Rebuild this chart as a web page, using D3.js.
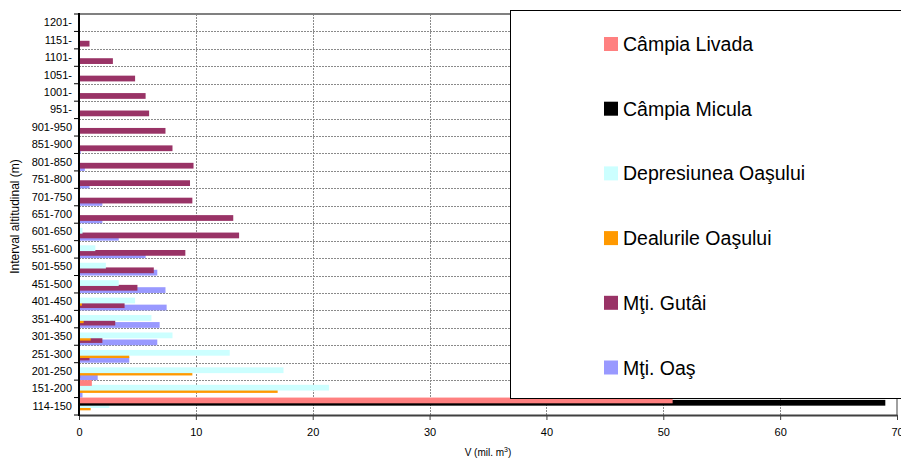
<!DOCTYPE html>
<html>
<head>
<meta charset="utf-8">
<script src="https://cdn.jsdelivr.net/npm/d3@7"></script>
<style>
  body { margin: 0; background: #fff; }
  svg { display: block; font-family: Arial, "Liberation Sans", sans-serif; }
</style>
</head>
<body>
<svg id="chart" width="901" height="466"></svg>
<script>
// altitude intervals, bottom to top
var categories = ["114-150", "151-200", "201-250", "251-300", "301-350", "351-400", "401-450",
  "451-500", "501-550", "551-600", "601-650", "651-700", "701-750", "751-800", "801-850",
  "851-900", "901-950", "951-", "1001-", "1051-", "1101-", "1151-", "1201-"];

var seriesNames = ["Câmpia Livada", "Câmpia Micula", "Depresiunea Oaşului", "Dealurile Oaşului", "Mţi. Gutâi", "Mţi. Oaş"];
var seriesColors = ["#ff8080", "#000000", "#ccffff", "#ff9900", "#993366", "#9999ff"];

var livada      = [50.8, 1.1, 0, 0, 0, 0, 0, 0, 0, 0, 0, 0, 0, 0, 0, 0, 0, 0, 0, 0, 0, 0, 0];
var micula      = [69.0, 0, 0, 0, 0, 0, 0, 0, 0, 0, 0, 0, 0, 0, 0, 0, 0, 0, 0, 0, 0, 0, 0];
var depresiunea = [2.6, 21.4, 17.5, 12.9, 8.0, 6.2, 4.8, 3.4, 2.3, 1.4, 0.3, 0, 0, 0, 0, 0, 0, 0, 0, 0, 0, 0, 0];
var dealurile   = [1.0, 17.0, 9.7, 4.3, 1.0, 0.4, 0.25, 0, 0, 0, 0, 0, 0, 0, 0, 0, 0, 0, 0, 0, 0, 0, 0];
var gutai       = [0, 0, 0.1, 0.9, 2.0, 3.1, 3.9, 5.0, 6.4, 9.1, 13.7, 13.2, 9.7, 9.5, 9.8, 8.0, 7.4, 6.0, 5.7, 4.8, 2.9, 0.9, 0];
var oas         = [0, 0.3, 1.6, 4.3, 6.7, 6.9, 7.5, 7.4, 6.7, 5.7, 3.4, 2.0, 2.0, 0.9, 0.5, 0.15, 0, 0, 0, 0, 0, 0, 0];

var xTicks = [0, 10, 20, 30, 40, 50, 60, 70];

var seriesValues = [livada, micula, depresiunea, dealurile, gutai, oas];

var svg = d3.select("#chart");
var L = 79, R = 897, T = 14, B = 415;

var x = d3.scaleLinear().domain([0, 70]).range([L, R]);
var y = d3.scaleBand().domain(categories.slice().reverse()).range([T, B]).padding(0);
var bw = y.bandwidth();
var barH = bw * 0.33;
// overlapping bars inside a band, first series on top
var sy = d3.scalePoint().domain(seriesNames).range([0, bw - barH]);

// gridlines
var grid = svg.append("g").attr("stroke", "#8a8a8a").attr("stroke-width", 1).attr("stroke-dasharray", "2,1");
grid.selectAll("line.v").data(xTicks.slice(1, -1)).enter().append("line")
  .attr("x1", d => Math.round(x(d)) + 0.5).attr("x2", d => Math.round(x(d)) + 0.5)
  .attr("y1", T).attr("y2", B);
grid.selectAll("line.h").data(categories.slice(1)).enter().append("line")
  .attr("x1", L).attr("x2", R)
  .attr("y1", d => Math.round(y(d) + bw) + 0.5).attr("y2", d => Math.round(y(d) + bw) + 0.5);

// bars: bottom series drawn first so upper ones overlap them
var bars = svg.append("g");
d3.range(seriesNames.length).reverse().forEach(function(si) {
  bars.append("g").attr("fill", seriesColors[si])
    .selectAll("rect").data(seriesValues[si]).enter().append("rect")
    .attr("x", L)
    .attr("y", (d, i) => y(categories[i]) + sy(seriesNames[si]))
    .attr("height", barH)
    .attr("width", d => x(d) - L);
});

// plot border
svg.append("line").attr("x1", L).attr("x2", R).attr("y1", T).attr("y2", T)
  .attr("stroke", "#808080").attr("stroke-width", 2);
svg.append("line").attr("x1", R).attr("x2", R).attr("y1", T).attr("y2", B)
  .attr("stroke", "#808080").attr("stroke-width", 1.5);

// x axis
var xAxis = svg.append("g").attr("transform", "translate(0," + B + ")")
  .call(d3.axisBottom(x).tickValues(xTicks).tickSize(5).tickPadding(8).tickSizeOuter(0));
xAxis.select(".domain").attr("stroke", "#404040").attr("stroke-width", 2);
xAxis.selectAll(".tick line").attr("stroke", "#404040");
xAxis.selectAll("text").attr("font-size", 11).attr("font-family", "Arial, 'Liberation Sans', sans-serif").attr("fill", "#000");

// y axis: labels at band centres, ticks on band borders
var yAxis = svg.append("g").attr("transform", "translate(" + L + ",0)")
  .call(d3.axisLeft(y).tickSize(0).tickPadding(7));
yAxis.select(".domain").remove();
yAxis.selectAll("text").attr("font-size", 11).attr("font-family", "Arial, 'Liberation Sans', sans-serif").attr("fill", "#000");
svg.append("g").attr("stroke", "#000").selectAll("line")
  .data(d3.range(categories.length + 1)).enter().append("line")
  .attr("x1", L - 5).attr("x2", L)
  .attr("y1", d => T + d * y.step()).attr("y2", d => T + d * y.step());
svg.append("line").attr("x1", L).attr("x2", L).attr("y1", T - 1).attr("y2", B + 1)
  .attr("stroke", "#000").attr("stroke-width", 2);

// axis titles
svg.append("text").attr("transform", "translate(19," + ((T + B) / 2 + 2) + ") rotate(-90)")
  .attr("text-anchor", "middle").attr("font-size", 12).text("Interval altitudinal (m)");
var xt = svg.append("text").attr("x", (L + R) / 2).attr("y", 456)
  .attr("text-anchor", "middle").attr("font-size", 10);
xt.append("tspan").text("V (mil. m");
xt.append("tspan").attr("font-size", 7).attr("dy", -4).text("3");
xt.append("tspan").attr("dy", 4).text(")");

// legend
var lg = svg.append("g");
lg.append("rect").attr("x", 510.5).attr("y", 10.5).attr("width", 420).attr("height", 388)
  .attr("fill", "#fff").attr("stroke", "#000").attr("stroke-width", 1);
var items = lg.selectAll("g.item").data(seriesNames).enter().append("g")
  .attr("transform", (d, i) => "translate(604," + (44 + i * 64.7) + ")");
items.append("rect").attr("x", 0).attr("y", -7).attr("width", 14).attr("height", 14)
  .attr("fill", (d, i) => seriesColors[i]);
items.append("text").attr("x", 19).attr("y", 7).attr("font-size", 19.5).text(d => d);
</script>
</body>
</html>
